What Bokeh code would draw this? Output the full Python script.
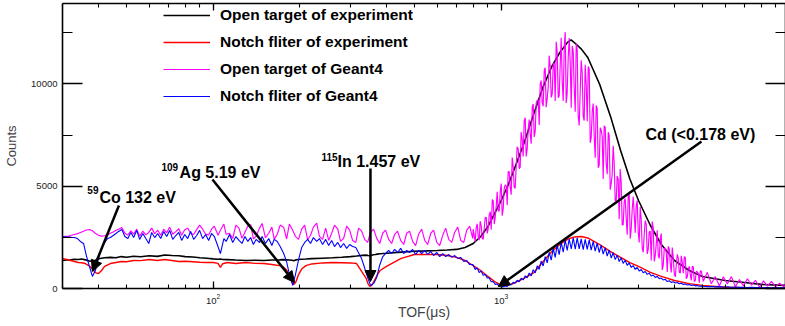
from bokeh.plotting import figure
from bokeh.models import (LogAxis, LinearAxis, LogTicker, SingleIntervalTicker,
                          Legend, LegendItem, Label, Arrow, NormalHead, Range1d,
                          CustomJSTickFormatter)
from bokeh.embed import file_html
from bokeh.resources import INLINE

FONT = "Liberation Sans"

# ---- Experiment spectra (TOF in microseconds, counts per bin) ----
tof_exp = [
    30, 31, 32, 33, 34, 35, 36, 37, 38, 39,
    40, 41, 42, 44, 46, 48, 50, 53, 56, 60,
    64, 68, 72, 76, 80, 85, 90, 95, 100, 104,
    106, 108, 112, 120, 130, 140, 150, 160, 170, 175,
    180, 184, 188, 191, 194, 198, 203, 210, 220, 240,
    260, 280, 300, 315, 330, 340, 345, 350, 355, 360,
    366, 372, 380, 400, 450, 500, 550, 600, 650, 700,
    750, 800, 850, 900, 950, 1000, 1050, 1100, 1200, 1300,
    1400, 1500, 1600, 1700, 1750, 1800, 1900, 2000, 2200, 2400,
    2600, 2800, 3000, 3300, 3600, 4000, 4500, 5000, 6000, 7000,
    8000, 9700,
]
exp_open = [
    1370, 1390, 1400, 1430, 1420, 1440, 1400, 1350, 1320, 1380,
    1450, 1480, 1500, 1520, 1500, 1560, 1530, 1580, 1550, 1600,
    1570, 1640, 1610, 1600, 1560, 1540, 1500, 1480, 1450, 1430,
    1440, 1420, 1410, 1390, 1370, 1380, 1370, 1390, 1400, 1410,
    1400, 1390, 1380, 1360, 1400, 1420, 1430, 1440, 1460, 1480,
    1500, 1530, 1560, 1590, 1620, 1630, 1610, 1600, 1620, 1650,
    1660, 1680, 1700, 1720, 1780, 1820, 1840, 1860, 1880, 1910,
    2000, 2200, 2540, 3030, 3670, 4300, 4950, 5670, 7090, 8550,
    9870, 10850, 11540, 12030, 12150, 12010, 11700, 11290, 9970, 8400,
    6750, 5350, 4300, 3080, 2150, 1370, 880, 590, 390, 290,
    200, 150,
]
exp_notch = [
    1470, 1420, 1370, 1320, 1270, 1260, 1220, 1120, 980, 780,
    730, 880, 1080, 1220, 1270, 1320, 1310, 1370, 1360, 1420,
    1370, 1420, 1370, 1320, 1330, 1310, 1280, 1270, 1270, 1230,
    1030, 1210, 1270, 1220, 1270, 1230, 1220, 1170, 1120, 1060,
    900, 640, 300, 200, 330, 680, 950, 1120, 1200, 1250,
    1270, 1260, 1250, 1220, 780, 490, 240, 100, 150, 290,
    490, 680, 880, 1080, 1470, 1660, 1670, 1660, 1610, 1520,
    1370, 1120, 880, 590, 340, 170, 150, 240, 490, 780,
    1320, 1810, 2150, 2400, 2470, 2520, 2540, 2470, 2150, 1800,
    1520, 1270, 1080, 790, 590, 390, 240, 150, 60, 40,
    30, 20,
]

# ---- Geant4 TOF bins ----
tof_g4_low = [
    30, 30.7, 31.5, 32.2, 33, 33.8, 34.6, 35.5, 36.3, 37.2,
    38.1, 39, 40, 41, 42, 43, 44, 45, 46, 47,
    48.2, 49.4, 50.6, 51.8, 53, 54.3, 55.6, 57, 58.4, 59.8,
    61.2, 62.7, 64.2, 65.8, 67.4, 69, 70.7, 72.4, 74.2, 76,
    77.8, 79.7, 81.6, 83.6, 85.6, 87.7, 89.8, 92, 94.2, 96.5,
    98.8, 101, 104, 106, 109, 111, 114, 117, 120, 123,
    126, 129, 132, 135, 138, 141, 145, 148, 152, 156,
    160, 163, 167, 171, 176, 180, 184, 189, 193, 198,
    203, 208, 213, 218, 223, 229, 234, 240, 246, 252,
    258, 264, 271, 277, 284, 291, 298, 305, 313, 320,
    328, 336, 344, 352, 361, 370, 379, 388, 397, 407,
    417, 427, 437, 448, 459, 470, 481, 493, 505, 517,
    530, 543, 556, 570, 583, 598, 612, 627, 642, 658,
    674, 690, 707, 724, 742, 760, 778, 797,
]
tof_g4_peak = [
    800, 813, 826, 839, 853, 867, 881, 895, 909, 924,
    939, 954, 969, 985, 1001, 1017, 1033, 1050, 1067, 1084,
    1102, 1119, 1137, 1156, 1174, 1193, 1213, 1232, 1252, 1272,
    1293, 1314, 1335, 1356, 1378, 1400, 1423, 1446, 1469, 1493,
    1517, 1541, 1566, 1591, 1617, 1643, 1670, 1696, 1724, 1752,
    1780, 1809, 1838, 1867, 1897, 1928, 1959, 1991, 2023, 2055,
    2088, 2122, 2156, 2191, 2226, 2262, 2299, 2336, 2373, 2412,
    2450, 2490, 2530, 2571, 2612, 2654, 2697, 2741, 2785, 2830,
    2876, 2922, 2969, 3017, 3066, 3115, 3165, 3216, 3268, 3321,
    3375, 3429, 3484, 3541, 3598, 3656, 3715, 3775, 3836, 3898,
    3961, 4025, 4090, 4156, 4223, 4291, 4360, 4431, 4502, 4575,
    4649, 4724, 4800, 4877, 4956,
]
tof_g4_peak_fine = [
    800, 806, 813, 819, 826, 833, 839, 846, 853, 860,
    867, 874, 881, 888, 895, 902, 909, 917, 924, 932,
    939, 947, 954, 962, 969, 977, 985, 993, 1001, 1009,
    1017, 1025, 1033, 1042, 1050, 1058, 1067, 1075, 1084, 1093,
    1102, 1110, 1119, 1128, 1137, 1147, 1156, 1165, 1174, 1184,
    1193, 1203, 1213, 1222, 1232, 1242, 1252, 1262, 1272, 1283,
    1293, 1303, 1314, 1324, 1335, 1346, 1356, 1367, 1378, 1389,
    1400, 1412, 1423, 1434, 1446, 1458, 1469, 1481, 1493, 1505,
    1517, 1529, 1541, 1554, 1566, 1579, 1591, 1604, 1617, 1630,
    1643, 1657, 1670, 1683, 1696, 1710, 1724, 1738, 1752, 1766,
    1780, 1794, 1809, 1823, 1838, 1852, 1867, 1882, 1897, 1912,
    1928, 1943, 1959, 1975, 1991, 2007, 2023, 2039, 2055, 2072,
    2088, 2105, 2122, 2139, 2156, 2174, 2191, 2209, 2226, 2244,
    2262, 2280, 2299, 2317, 2336, 2355, 2373, 2393, 2412, 2431,
    2450, 2470, 2490, 2510, 2530, 2550, 2571, 2591, 2612, 2633,
    2654, 2675, 2697, 2719, 2741, 2763, 2785, 2807, 2830, 2853,
    2876, 2899, 2922, 2946, 2969, 2993, 3017, 3041, 3066, 3090,
    3115, 3140, 3165, 3191, 3216, 3242, 3268, 3294, 3321, 3348,
    3375, 3402, 3429, 3457, 3484, 3513, 3541, 3569, 3598, 3627,
    3656, 3686, 3715, 3745, 3775, 3806, 3836, 3867, 3898, 3929,
    3961, 3993, 4025, 4057, 4090, 4123, 4156, 4189, 4223, 4257,
    4291, 4326, 4360, 4395, 4431, 4466, 4502, 4539, 4575, 4612,
    4649, 4686, 4724, 4762, 4800, 4839, 4877, 4917, 4956,
]
tof_g4_tail = [
    5036, 5200, 5370, 5545, 5725, 5912, 6105, 6304, 6509, 6721,
    6940, 7166, 7400, 7641, 7890, 8147, 8413, 8687, 8970, 9262,
    9564, 9700,
]
tof_g4_open = tof_g4_low + tof_g4_peak_fine + tof_g4_tail
tof_g4_notch = tof_g4_low + tof_g4_peak + tof_g4_tail

# ---- Geant4 counts ----
g4_open = [
    2540, 2550, 2560, 2600, 2640, 2680, 2740, 2800, 2860, 2880,
    2820, 2700, 2600, 2560, 2580, 2620, 2700, 2760, 2850, 2900,
    2980, 2700, 2620, 2820, 2660, 2900, 2560, 2800, 2620, 2740,
    2950, 2680, 2850, 2600, 2900, 2720, 3000, 2650, 2780, 2920,
    2600, 2870, 2950, 2700, 2640, 2880, 3100, 2900, 2650, 2620,
    2900, 3050, 2600, 2850, 3150, 2650, 2700, 2450, 3100, 2950,
    2450, 2750, 3050, 3120, 2420, 2550, 2950, 3180, 2480, 2700,
    3000, 2400, 2650, 3100, 2980, 2420, 3150, 2850, 2550, 2400,
    2900, 3100, 2380, 2600, 3000, 3200, 2550, 2400, 2950, 2350,
    2700, 3100, 2900, 2300, 2450, 3050, 2850, 2350, 2250, 2950,
    2800, 2400, 2250, 2750, 2900, 2450, 2200, 2700, 2850, 2400,
    2200, 2650, 2800, 2350, 2150, 2700, 2800, 2300, 2100, 2650,
    2900, 2350, 2150, 2700, 2850, 2250, 2100, 2600, 2950, 2400,
    2250, 2750, 3000, 2350, 2250, 2850, 3050, 2450,
    2900, 2600, 2290, 2950, 3160, 2530, 2360, 3290, 3060, 2440,
    2410, 2970, 3470, 3480, 2690, 2920, 3590, 3750, 2870, 4350,
    4270, 3150, 3480, 4040, 4730, 3800, 3780, 4730, 5130, 3560,
    3900, 4870, 5070, 5010, 4080, 5700, 5720, 4990, 4580, 6400,
    5940, 4970, 4890, 5930, 6930, 6820, 5850, 5930, 7650, 7270,
    6450, 8200, 8350, 6450, 6810, 7800, 8260, 7540, 7080, 8880,
    9020, 7410, 7690, 9070, 9200, 9210, 7990, 9990, 10160, 9090,
    8910, 10670, 10790, 8860, 9300, 9880, 11380, 10830, 9340, 9520,
    10950, 11030, 9160, 12060, 11550, 9320, 9420, 10930, 12250, 10160,
    9170, 11840, 12530, 9070, 9550, 11280, 12240, 11020, 8830, 11850,
    11610, 9800, 8640, 11970, 11680, 8460, 7970, 9620, 11160, 10550,
    8410, 8210, 10930, 9920, 8170, 10850, 10730, 7130, 7360, 8650,
    9040, 7480, 6390, 8950, 8800, 5900, 6030, 7860, 7730, 7430,
    5350, 7950, 7880, 6100, 5590, 7640, 7480, 4830, 5140, 5570,
    6980, 6110, 4290, 4290, 5500, 5340, 3390, 5840, 5170, 3120,
    3100, 4230, 4400, 3450, 2630, 4530, 4640, 2440, 2920, 3870,
    4500, 3600, 2720, 4040, 4300, 2760, 2250, 3980, 3360, 1990,
    1770, 2640, 3320, 3150, 1690, 1910, 2760, 2800, 1370, 3270,
    2960, 1330, 1610, 2170, 2850, 1610, 1470, 2400, 2690, 910,
    1140, 1940, 1980, 1770, 810, 2060, 1940, 1220, 780, 2000,
    1520, 730, 570, 1150, 1670, 1480, 800, 750, 1600, 1280,
    750, 1560, 1520, 480, 570, 960, 1080, 670, 400, 1090,
    1050, 340, 390, 840, 810, 740, 280, 860, 850,
    350, 790, 230, 580, 120, 570, 220, 580, 90, 440,
    130, 480, 160, 400, 60, 370, 120, 350, 80, 260,
    90, 220,
]
g4_notch = [
    2520, 2520, 2520, 2500, 2490, 2440, 2300, 2200, 1610, 1080,
    590, 880, 1470, 1960, 2250, 2440, 2490, 2590, 2690, 2790,
    2880, 2540, 2440, 2740, 2490, 2840, 2400, 2690, 2440, 2200,
    2740, 2490, 2690, 2440, 2790, 2540, 2840, 2400, 2590, 2740,
    2350, 2640, 2440, 2790, 2400, 2590, 2840, 2440, 2640, 2350,
    2690, 2540, 2050, 1710, 2440, 2300, 2640, 2250, 2540, 2350,
    2200, 2540, 2300, 2490, 2150, 2400, 2250, 2540, 2200, 2440,
    2100, 2400, 2300, 2050, 1700, 1300, 700, 150, 650, 1400,
    2000, 2250, 2400, 2200, 2490, 2300, 2440, 2150, 2400, 2100,
    2350, 2050, 2250, 2000, 2200, 1960, 2150, 2050, 2000, 1750,
    1450, 1000, 540, 150, 250, 540, 1150, 1550, 1710, 1860,
    1710, 1910, 1760, 1960, 1710, 1860, 1760, 1910, 1660, 1860,
    1710, 1860, 1660, 1810, 1610, 1760, 1560, 1710, 1560, 1660,
    1520, 1610, 1470, 1520, 1320, 1370, 1170, 1170,
    1150, 930, 1010, 780, 850, 640, 700, 510, 520, 330,
    340, 200, 220, 120, 150, 90, 120, 100, 190, 180,
    300, 260, 400, 330, 500, 420, 620, 520, 760, 620,
    920, 760, 1110, 930, 1340, 1100, 1560, 1250, 1770, 1390,
    1960, 1520, 2120, 1650, 2260, 1780, 2370, 1860, 2420, 1930,
    2480, 1920, 2470, 1940, 2430, 1900, 2400, 1910, 2380, 1880,
    2300, 1830, 2220, 1760, 2120, 1680, 2000, 1580, 1880, 1490,
    1750, 1410, 1630, 1320, 1500, 1230, 1380, 1130, 1250, 1030,
    1120, 930, 1030, 850, 930, 770, 830, 690, 750, 610,
    660, 540, 590, 480, 510, 420, 450, 340, 380, 300,
    330, 270, 290, 230, 260, 200, 220, 170, 190, 150,
    170, 130, 150, 110, 130,
    110, 90, 100, 80, 90, 70, 80, 60, 70, 55,
    60, 50, 55, 45, 50, 40, 45, 35, 40, 35,
    30, 30,
]

series_names = ["Open target of experiment", "Notch fliter of experiment",
                "Open target of Geant4", "Notch fliter of Geant4"]
series_colors = ["black", "#ff0000", "#ff00ff", "#0000ff"]

# ---- resonance annotations ----
ann_sup = ["59", "109", "115"]
ann_sup_pos = [(36.6, 4815), (66.2, 5963), (237.9, 6428)]
ann_text = ["Co 132 eV", "Ag 5.19 eV", "In 1.457 eV", "Cd (<0.178 eV)"]
ann_text_pos = [(40.3, 4448), (76.5, 5670), (270.4, 6207), (3172, 7520)]
arrow_start = [(47.1, 4057), (99.5, 5328), (351.9, 5866), (4963, 7185)]
arrow_end = [(38.1, 831), (191.8, 293), (351.9, 342), (979, 98)]

p = figure(width=785, height=326, x_axis_type="log",
           x_range=Range1d(30, 9716), y_range=Range1d(0, 13930),
           output_backend="svg", toolbar_location=None,
           min_border_left=62, min_border_right=0,
           min_border_top=3, min_border_bottom=38,
           background_fill_color="white", border_fill_color="white")
p.outline_line_color = None
p.xgrid.visible = False
p.ygrid.visible = False

r_open = p.line(tof_exp, exp_open, line_color=series_colors[0], line_width=1.6)
r_notch = p.line(tof_exp, exp_notch, line_color=series_colors[1], line_width=1.4)
r_g4open = p.line(tof_g4_open, g4_open, line_color=series_colors[2], line_width=1.15)
r_g4notch = p.line(tof_g4_notch, g4_notch, line_color=series_colors[3], line_width=1.1)

blank = CustomJSTickFormatter(code="return ''")


def style_axis(ax, tick_major, tick_minor, show_labels):
    ax.major_tick_in = tick_major
    ax.major_tick_out = 0
    ax.minor_tick_in = tick_minor
    ax.minor_tick_out = 0
    ax.axis_line_width = 1.6
    ax.axis_line_color = "black"
    ax.major_tick_line_width = 1.3
    ax.minor_tick_line_width = 1.1
    ax.major_label_text_font = FONT
    if show_labels:
        ax.major_label_text_font_size = "9.5px"
        ax.major_label_text_color = "#222222"
        ax.major_label_standoff = 5
    else:
        ax.formatter = blank
        ax.major_label_text_font_size = "1px"
        ax.major_label_standoff = 0


xax = p.xaxis[0]
xax.ticker = LogTicker(num_minor_ticks=10)
style_axis(xax, 7, 4, True)
xax.axis_label = "TOF(μs)"
xax.axis_label_text_font = FONT
xax.axis_label_text_font_size = "14px"
xax.axis_label_text_font_style = "normal"
xax.axis_label_standoff = -3

yax = p.yaxis[0]
yax.ticker = SingleIntervalTicker(interval=5000, num_minor_ticks=2)
style_axis(yax, 20, 10, True)
yax.axis_label = "Counts"
yax.axis_label_text_font = FONT
yax.axis_label_text_font_size = "13px"
yax.axis_label_text_font_style = "normal"
yax.axis_label_standoff = 9

top = LogAxis(ticker=LogTicker(num_minor_ticks=10))
style_axis(top, 7, 4, False)
p.add_layout(top, "above")

right = LinearAxis(ticker=SingleIntervalTicker(interval=5000, num_minor_ticks=2))
style_axis(right, 20, 10, False)
p.add_layout(right, "right")

legend = Legend(items=[LegendItem(label=n, renderers=[r]) for n, r in
                       zip(series_names, [r_open, r_notch, r_g4open, r_g4notch])],
                location=(101, 182), orientation="vertical",
                border_line_color=None, background_fill_alpha=0,
                padding=0, margin=0, spacing=7,
                glyph_width=47, glyph_height=20, label_height=20,
                label_standoff=10, label_text_font=FONT,
                label_text_font_size="15.5px", label_text_font_style="bold",
                label_text_color="black")
p.add_layout(legend)

for txt, (x, y) in zip(ann_sup, ann_sup_pos):
    p.add_layout(Label(x=x, y=y, text=txt, text_font=FONT, text_font_size="10px",
                       text_font_style="bold", text_baseline="alphabetic",
                       text_align="left", text_color="black"))
for txt, (x, y) in zip(ann_text, ann_text_pos):
    p.add_layout(Label(x=x, y=y, text=txt, text_font=FONT, text_font_size="16px",
                       text_font_style="bold", text_baseline="alphabetic",
                       text_align="left", text_color="black"))
for (x0, y0), (x1, y1) in zip(arrow_start, arrow_end):
    p.add_layout(Arrow(end=NormalHead(size=11, fill_color="black", line_color="black",
                                      line_width=1),
                       x_start=x0, y_start=y0, x_end=x1, y_end=y1,
                       line_color="black", line_width=2.5))

open("out.html", "w").write(file_html(p, INLINE))
